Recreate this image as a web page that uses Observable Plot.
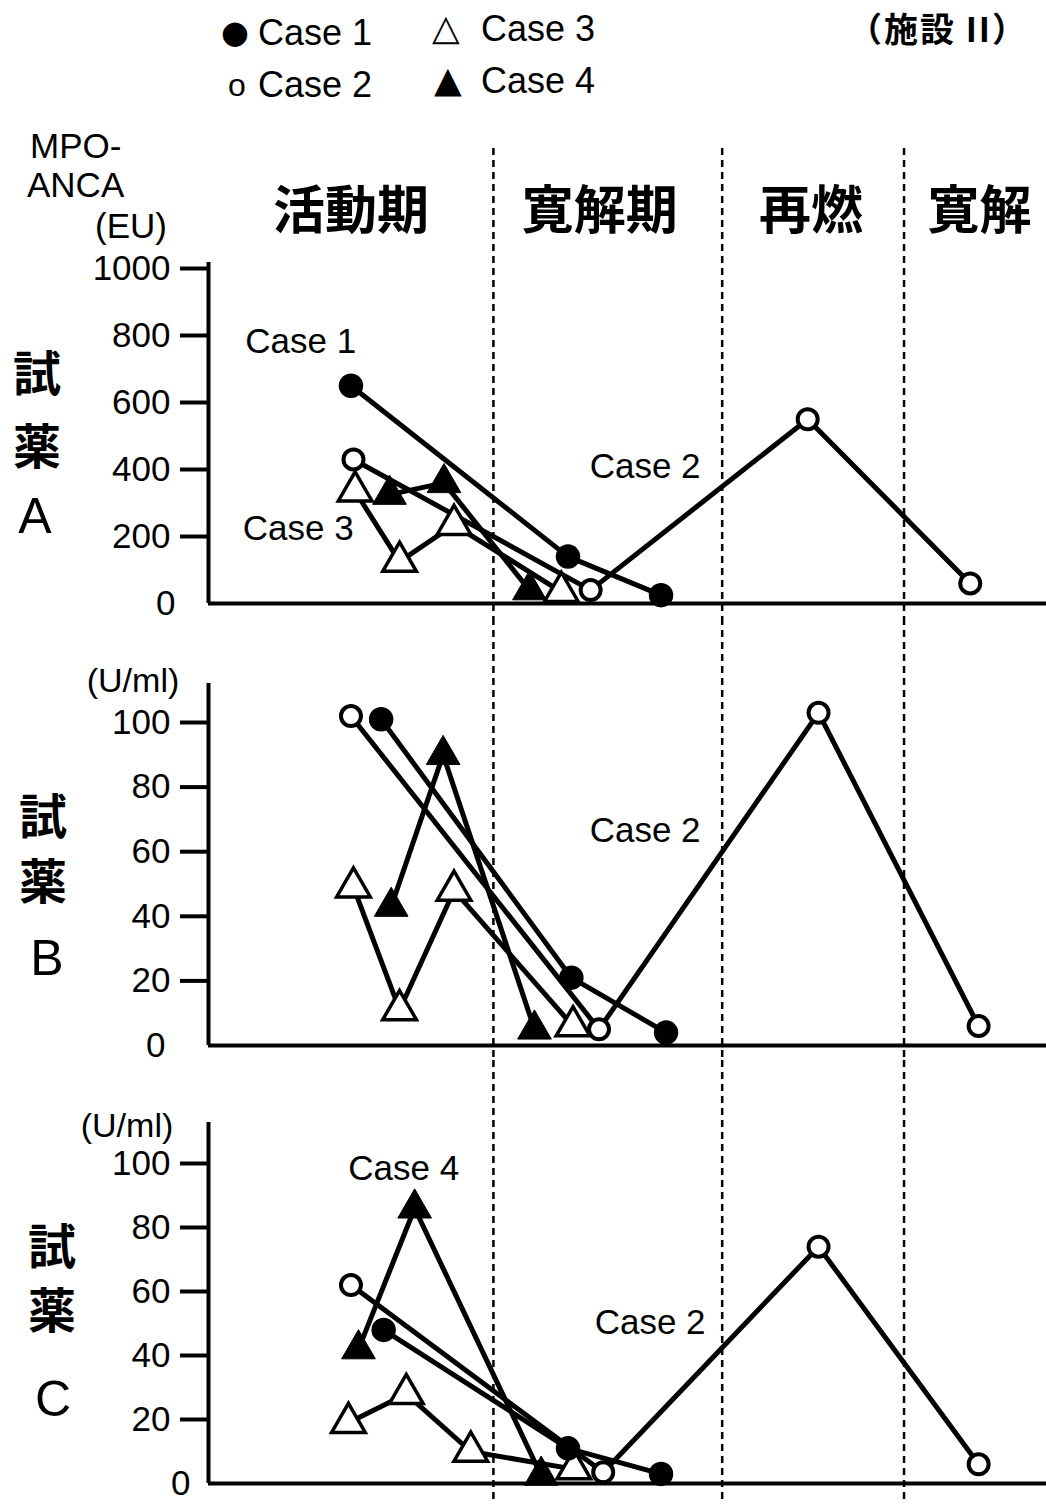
<!DOCTYPE html>
<html><head><meta charset="utf-8">
<script src="https://cdn.jsdelivr.net/npm/d3@7"></script>
<script src="https://cdn.jsdelivr.net/npm/@observablehq/plot@0.6"></script>
<style>
body{margin:0;background:#fff;}
#wrap{position:relative;width:1046px;height:1504px;overflow:hidden;background:#fff;font-family:"Liberation Sans",Arial,sans-serif;color:#000;}
.t{position:absolute;white-space:nowrap;line-height:1;transform:translate(-50%,-50%);}
.l{position:absolute;white-space:nowrap;line-height:1;transform:translateY(-50%);}
.cjk{font-family:"Noto Sans CJK JP",sans-serif;font-weight:700;}
.panel{position:absolute;left:0;}
</style></head><body><div id="wrap"></div>
<script>
// ---- data (x = time position along the course, arbitrary units 0-100) ----
const caseNames = ["Case 1", "Case 2", "Case 3", "Case 4"];
const phaseNames = ["活動期", "寛解期", "再燃", "寛解"];
const phaseCenters = [17.0, 46.7, 71.9, 92.0];
const phaseBounds = [34.0, 61.3, 83.0];

// Reagent A (EU)
const aTicks = [200, 400, 600, 800, 1000];
const aCase1X = [17.0, 42.9, 54.0], aCase1Y = [650, 140, 25];
const aCase2X = [17.3, 45.6, 71.5, 90.9], aCase2Y = [430, 40, 550, 60];
const aCase3X = [17.5, 22.8, 29.3, 42.1], aCase3Y = [335, 125, 235, 35];
const aCase4X = [21.6, 28.1, 38.3], aCase4Y = [325, 360, 40];

// Reagent B (U/ml)
const bTicks = [20, 40, 60, 80, 100];
const bCase1X = [20.6, 43.3, 54.6], bCase1Y = [101, 21, 4];
const bCase2X = [17.0, 46.6, 72.8, 91.9], bCase2Y = [102, 5, 103, 6];
const bCase3X = [17.3, 22.8, 29.3, 43.5], bCase3Y = [49, 11, 48, 6];
const bCase4X = [21.8, 28.0, 38.9], bCase4Y = [43, 90, 5];

// Reagent C (U/ml)
const cTicks = [20, 40, 60, 80, 100];
const cCase1X = [20.9, 42.9, 54.0], cCase1Y = [48, 11, 3];
const cCase2X = [17.0, 47.1, 72.8, 91.9], cCase2Y = [62, 3.5, 74, 6];
const cCase3X = [16.7, 23.6, 31.3, 43.6], cCase3Y = [19, 28, 10, 4.5];
const cCase4X = [17.9, 24.6, 39.7], cCase4Y = [42, 86, 2.5];

// in-plot annotations
const aNotes = [{x: 11.0, y: 780, t: "Case 1"}, {x: 10.7, y: 224, t: "Case 3"}, {x: 52.1, y: 409, t: "Case 2"}];
const bNotes = [{x: 52.1, y: 66.6, t: "Case 2"}];
const cNotes = [{x: 23.3, y: 98.4, t: "Case 4"}, {x: 52.7, y: 50.3, t: "Case 2"}];

// ---- helpers ----
const wrap = document.getElementById("wrap");
const LATIN = "Liberation Sans, Arial, sans-serif";
function txt(s, x, y, size, cls = "t", extra = "") {
  const d = document.createElement("div");
  d.className = cls;
  d.textContent = s;
  d.style.cssText = `left:${x}px;top:${y}px;font-size:${size}px;${extra}`;
  wrap.appendChild(d);
}
const rows = (xs, ys, c) => xs.map((x, i) => ({x, y: ys[i], c}));

function panel(o) {
  const s1 = rows(o.s[0][0], o.s[0][1], caseNames[0]);
  const s2 = rows(o.s[1][0], o.s[1][1], caseNames[1]);
  const s3 = rows(o.s[2][0], o.s[2][1], caseNames[2]);
  const s4 = rows(o.s[3][0], o.s[3][1], caseNames[3]);
  const all = [...s1, ...s2, ...s3, ...s4];
  const marks = [
    Plot.ruleX(phaseBounds, {stroke: "black", strokeWidth: 2.5, strokeDasharray: "7,5", insetTop: o.ruleTop, insetBottom: o.ruleBottom}),
    Plot.axisY(o.ticks, {tickSize: 28, tickPadding: 10, fontSize: 35, strokeWidth: 4, label: null, fontFamily: LATIN, tickFormat: d => String(d)}),
    Plot.axisY([0], {tickSize: 0, tickPadding: o.zeroPad, fontSize: 35, label: null, fontFamily: LATIN, tickFormat: d => String(d)}),
    Plot.ruleX([0], {stroke: "black", strokeWidth: 4, insetTop: o.axisTop}),
    Plot.ruleY([0], {stroke: "black", strokeWidth: 4}),
    Plot.line(all, {x: "x", y: "y", z: "c", stroke: "black", strokeWidth: 5}),
    Plot.dot(s3, {x: "x", y: "y", symbol: "triangle", r: 12.5, fill: "white", stroke: "black", strokeWidth: 3.5}),
    Plot.dot(s4, {x: "x", y: "y", symbol: "triangle", r: 12.5, fill: "black", stroke: "black", strokeWidth: 1}),
    Plot.dot(s1, {x: "x", y: "y", r: 11.5, fill: "black", stroke: "black"}),
    Plot.dot(s2, {x: "x", y: "y", r: 10, fill: "white", stroke: "black", strokeWidth: 4}),
    Plot.text(o.notes, {x: "x", y: "y", text: "t", fontSize: 35, fontFamily: LATIN, fill: "black"})
  ];
  if (o.phases) {
    marks.push(Plot.text(phaseNames, {x: (d, i) => phaseCenters[i], text: d => d, frameAnchor: "top", dy: -76,
      fontSize: 52, fontWeight: 700, fontFamily: "Noto Sans CJK JP, sans-serif", fill: "black"}));
  }
  const svg = Plot.plot({
    width: 1046, height: o.height,
    marginLeft: 208, marginRight: 0, marginTop: o.mt, marginBottom: o.mb,
    x: {domain: [0, 100], axis: null},
    y: {domain: o.domain, axis: null},
    style: {fontFamily: LATIN, background: "transparent", overflow: "visible", color: "black"},
    marks
  });
  svg.classList.add("panel");
  svg.style.top = o.top + "px";
  svg.style.position = "absolute";
  wrap.appendChild(svg);
}

panel({top: 140, height: 478, mt: 128, mb: 15, domain: [0, 1000], ticks: aTicks, notes: aNotes,
  s: [[aCase1X, aCase1Y], [aCase2X, aCase2Y], [aCase3X, aCase3Y], [aCase4X, aCase4Y]],
  ruleTop: -120, ruleBottom: -15, axisTop: -6, zeroPad: 33, phases: true});
panel({top: 618, height: 442, mt: 104, mb: 15, domain: [0, 100], ticks: bTicks, notes: bNotes,
  s: [[bCase1X, bCase1Y], [bCase2X, bCase2Y], [bCase3X, bCase3Y], [bCase4X, bCase4Y]],
  ruleTop: -104, ruleBottom: -15, axisTop: -39, zeroPad: 43});
panel({top: 1060, height: 444, mt: 103, mb: 21, domain: [0, 100], ticks: cTicks, notes: cNotes,
  s: [[cCase1X, cCase1Y], [cCase2X, cCase2Y], [cCase3X, cCase3Y], [cCase4X, cCase4Y]],
  ruleTop: -103, ruleBottom: -21, axisTop: -41, zeroPad: 18});

// ---- legend, title and labels ----
txt("●", 221, 32, 32, "l", "font-family:DejaVu Sans;");
txt(caseNames[0], 258, 33, 36, "l");
txt("△", 432, 28, 36, "l", "font-family:DejaVu Sans;");
txt(caseNames[2], 481, 29, 36, "l");
txt("o", 228, 85, 32, "l");
txt(caseNames[1], 258, 85, 36, "l");
txt("▲", 434, 80, 36, "l", "font-family:DejaVu Sans;");
txt(caseNames[3], 481, 81, 36, "l");
txt("（施設 II）", 938, 28, 34, "t cjk", "letter-spacing:2px;");

txt("MPO-", 30, 145, 35, "l");
txt("ANCA", 27, 184, 35, "l");
txt("(EU)", 131, 225, 35);
txt("(U/ml)", 133, 680, 34);
txt("(U/ml)", 127, 1125, 34);

txt("試", 37, 370, 48, "t cjk");
txt("薬", 37, 443, 48, "t cjk");
txt("A", 35, 516, 50);
txt("試", 43, 813, 48, "t cjk");
txt("薬", 43, 878, 48, "t cjk");
txt("B", 47, 958, 50);
txt("試", 52, 1243, 48, "t cjk");
txt("薬", 52, 1307, 48, "t cjk");
txt("C", 53, 1399, 50);
</script></body></html>
